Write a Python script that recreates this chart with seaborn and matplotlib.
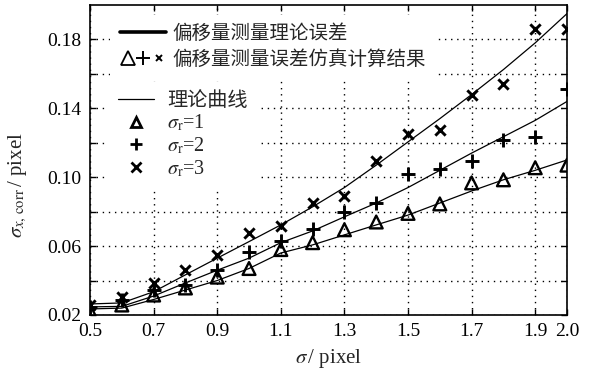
import matplotlib
matplotlib.use("Agg")
import matplotlib.pyplot as plt
from matplotlib.lines import Line2D
from matplotlib.legend_handler import HandlerTuple
import seaborn as sns

# 数据
sigma = [0.5, 0.6, 0.7, 0.8, 0.9, 1.0, 1.1, 1.2, 1.3, 1.4, 1.5, 1.6, 1.7, 1.8, 1.9, 2.0]

theory_r1 = [0.0235, 0.024, 0.029, 0.0345, 0.040, 0.047, 0.056, 0.0607, 0.0665, 0.0723,
             0.078, 0.085, 0.092, 0.0985, 0.104, 0.110]
theory_r2 = [0.0247, 0.025, 0.031, 0.0386, 0.046, 0.053, 0.062, 0.0688, 0.077, 0.085,
             0.094, 0.104, 0.114, 0.1235, 0.133, 0.144]
theory_r3 = [0.0264, 0.027, 0.0335, 0.0433, 0.053, 0.0626, 0.0723, 0.0828, 0.094, 0.107,
             0.1205, 0.134, 0.148, 0.1625, 0.178, 0.195]

sim_r1 = [0.0223, 0.0258, 0.0316, 0.0357, 0.042, 0.047, 0.058, 0.062, 0.0695, 0.074,
          0.079, 0.0845, 0.0967, 0.0985, 0.1055, 0.107]
sim_r2 = [0.0247, 0.0287, 0.0345, 0.0375, 0.046, 0.0566, 0.063, 0.070, 0.080, 0.085,
          0.102, 0.105, 0.1096, 0.1217, 0.1235, 0.151]
sim_r3 = [0.0258, 0.0306, 0.0386, 0.046, 0.055, 0.0677, 0.0717, 0.085, 0.089, 0.1095,
          0.125, 0.1276, 0.148, 0.154, 0.186, 0.186]

xticks = [0.5, 0.7, 0.9, 1.1, 1.3, 1.5, 1.7, 1.9, 2.0]
xtick_labels = ["0.5", "0.7", "0.9", "1.1", "1.3", "1.5", "1.7", "1.9", "2.0"]
yticks = [0.02, 0.04, 0.06, 0.08, 0.10, 0.12, 0.14, 0.16, 0.18]
ytick_labels = ["0.02", "", "0.06", "", "0.10", "", "0.14", "", "0.18"]

sns.set_style("ticks")
plt.rcParams["font.family"] = ["Liberation Serif", "Noto Sans CJK SC", "DejaVu Sans"]
plt.rcParams["mathtext.fontset"] = "stix"

fig = plt.figure(figsize=(5.93, 3.74), dpi=100)
ax = fig.add_axes([0.1518, 0.1578, 0.8044, 0.8289])

# 理论曲线
for curve in [theory_r1, theory_r2, theory_r3]:
    sns.lineplot(x=sigma, y=curve, color="k", linewidth=0.9, ax=ax)

# 仿真结果
sns.scatterplot(x=sigma, y=sim_r1, marker="^", s=85, facecolors="none",
                edgecolor="k", linewidth=1.7, ax=ax, zorder=3)
sns.scatterplot(x=sigma, y=sim_r2, marker="+", s=90, color="k", linewidth=2.1, ax=ax, zorder=3)
sns.scatterplot(x=sigma, y=sim_r3, marker="x", s=55, color="k", linewidth=2.1, ax=ax, zorder=3)

ax.set_xlim(0.5, 2.0)
ax.set_ylim(0.02, 0.2)
ax.set_xticks(xticks)
ax.set_xticklabels(xtick_labels)
ax.set_yticks(yticks)
ax.set_yticklabels(ytick_labels)
ax.grid(True, color="k", linestyle=(0, (1, 3.4)), linewidth=1.0)
ax.tick_params(direction="in", top=True, right=True, length=4, width=1.0,
               colors="k", labelsize=14, pad=6)
for sp in ax.spines.values():
    sp.set_color("k")
    sp.set_linewidth(1.2)

ax.set_xlabel(r"$\sigma\,$/ pixel", fontsize=15, labelpad=5)
ax.set_ylabel(r"$\sigma_{x,\,\mathrm{corr}}\,$/ pixel", fontsize=15)
ax.yaxis.set_label_coords(-0.128, 0.42)

prop = {"family": ["Liberation Serif", "Noto Sans CJK SC"], "size": 14}

# 图例1
h_thick = Line2D([], [], color="k", linewidth=2.6)
h_tri = Line2D([], [], marker="^", color="k", markerfacecolor="none", markersize=10,
               markeredgewidth=1.3, linestyle="none")
h_plus = Line2D([], [], marker="+", color="k", markersize=10, markeredgewidth=1.4, linestyle="none")
h_x = Line2D([], [], marker="x", color="k", markersize=5, markeredgewidth=1.4, linestyle="none")
leg1 = ax.legend([h_thick, (h_tri, h_plus, h_x)],
                 ["偏移量测量理论误差", "偏移量测量误差仿真计算结果"],
                 handler_map={tuple: HandlerTuple(ndivide=None, pad=0.0)},
                 loc="upper left", bbox_to_anchor=(0.042, 0.968), borderaxespad=0,
                 borderpad=0.5, handlelength=2.4, handletextpad=0.3, labelspacing=0.35,
                 frameon=True, fancybox=False, facecolor="white", edgecolor="none",
                 framealpha=1, prop=prop)
ax.add_artist(leg1)

# 图例2
prop2 = {"family": ["Liberation Serif", "Noto Sans CJK SC"], "size": 14.5}
h_line = Line2D([], [], color="k", linewidth=0.9)
h_t2 = Line2D([], [], marker="^", color="k", markerfacecolor="none", markersize=7,
              markeredgewidth=2.0, linestyle="none")
h_p2 = Line2D([], [], marker="+", color="k", markersize=9, markeredgewidth=2.0, linestyle="none")
h_x2 = Line2D([], [], marker="x", color="k", markersize=7, markeredgewidth=2.0, linestyle="none")
ax.legend([h_line, h_t2, h_p2, h_x2],
          ["理论曲线", r"$\sigma_{\mathrm{r}}$=1", r"$\sigma_{\mathrm{r}}$=2", r"$\sigma_{\mathrm{r}}$=3"],
          loc="upper left", bbox_to_anchor=(0.038, 0.752), borderaxespad=0,
          borderpad=0.5, handlelength=1.8, handletextpad=0.62, labelspacing=0.1,
          frameon=True, fancybox=False, facecolor="white", edgecolor="none",
          framealpha=1, prop=prop2)

fig.savefig("out.png", dpi=100)
